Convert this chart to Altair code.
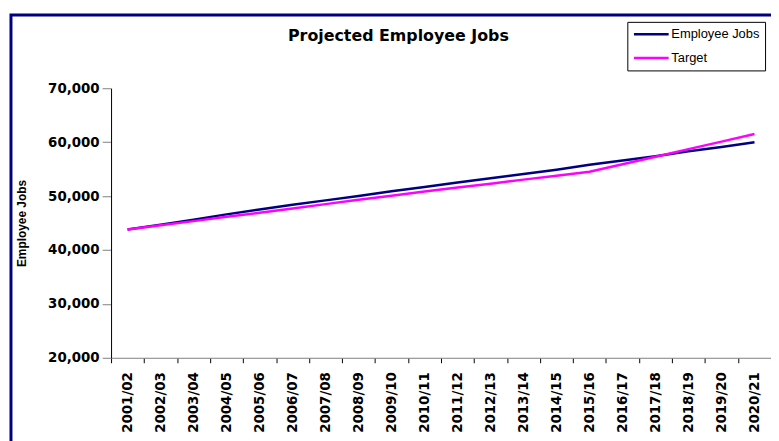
import altair as alt
import pandas as pd

years = ["2001/02", "2002/03", "2003/04", "2004/05", "2005/06", "2006/07", "2007/08",
         "2008/09", "2009/10", "2010/11", "2011/12", "2012/13", "2013/14", "2014/15",
         "2015/16", "2016/17", "2017/18", "2018/19", "2019/20", "2020/21"]
employee_jobs = [43800, 44700, 45600, 46600, 47500, 48400, 49200, 50000, 50900, 51700,
                 52500, 53300, 54100, 54900, 55800, 56600, 57400, 58300, 59100, 60000]
target = [43800, 44600, 45350, 46150, 46900, 47700, 48500, 49300, 50050, 50850,
          51600, 52300, 53050, 53750, 54500, 55900, 57300, 58700, 60100, 61500]
series_names = ["Employee Jobs", "Target"]
series_colors = ["#000080", "#FF00FF"]
y_ticks = [20000, 30000, 40000, 50000, 60000, 70000]

df = pd.DataFrame({
    "year": years * 2,
    "series": [series_names[0]] * len(years) + [series_names[1]] * len(years),
    "value": employee_jobs + target,
})

frame = alt.Chart(alt.Data(values=[{"k": 1}])).mark_rect(
    filled=False, stroke="#000080", strokeWidth=3
).encode(
    x=alt.value(-101), x2=alt.value(720), y=alt.value(-74), y2=alt.value(420)
)

lines = alt.Chart(df).mark_line(strokeWidth=2.5).encode(
    x=alt.X("year:N", sort=years,
            scale=alt.Scale(type="band", paddingInner=0, paddingOuter=0),
            axis=alt.Axis(title=None, labelAngle=-90, tickBand="extent", tickSize=5,
                          tickColor="#000000", domainColor="#808080", labelPadding=9,
                          labelFont="DejaVu Sans", labelFontWeight="bold", labelFontSize=13.5,
                          labelColor="#000000", grid=False)),
    y=alt.Y("value:Q",
            scale=alt.Scale(domain=[20000, 70000], nice=False, zero=False),
            axis=alt.Axis(title="Employee Jobs", values=y_ticks, format=",.0f", tickSize=9,
                          tickColor="#808080", domainColor="#000000", labelPadding=3,
                          labelFont="DejaVu Sans", labelFontWeight="bold", labelFontSize=13.5,
                          labelColor="#000000", grid=False,
                          titleFont="Liberation Sans", titleFontSize=12, titleFontWeight="bold",
                          titleColor="#000000", titleX=-90, titleY=136,
                          titleAlign="center", titleBaseline="middle")),
    color=alt.Color("series:N",
                    scale=alt.Scale(domain=series_names, range=series_colors),
                    legend=alt.Legend(title=None, orient="none", legendX=521, legendY=-67,
                                      strokeColor="#000000", fillColor="#ffffff", padding=5,
                                      symbolType="M-3,0H3", symbolSize=136, symbolStrokeWidth=2.5,
                                      symbolOffset=11.7, labelOffset=12.7,
                                      labelFont="Liberation Sans", labelFontSize=13,
                                      labelColor="#000000", rowPadding=9)),
)

chart = alt.layer(frame, lines).properties(
    width=666, height=272,
    autosize="none",
    padding={"left": 104, "top": 79, "right": 0, "bottom": 82},
    title=alt.Title("Projected Employee Jobs", font="DejaVu Sans", fontSize=16,
                    fontWeight="bold", color="#000000", anchor="middle", frame="group",
                    dx=-43, dy=35),
).configure_view(stroke=None)

chart.save("out.html", embed_options={"renderer": "svg", "actions": False})
